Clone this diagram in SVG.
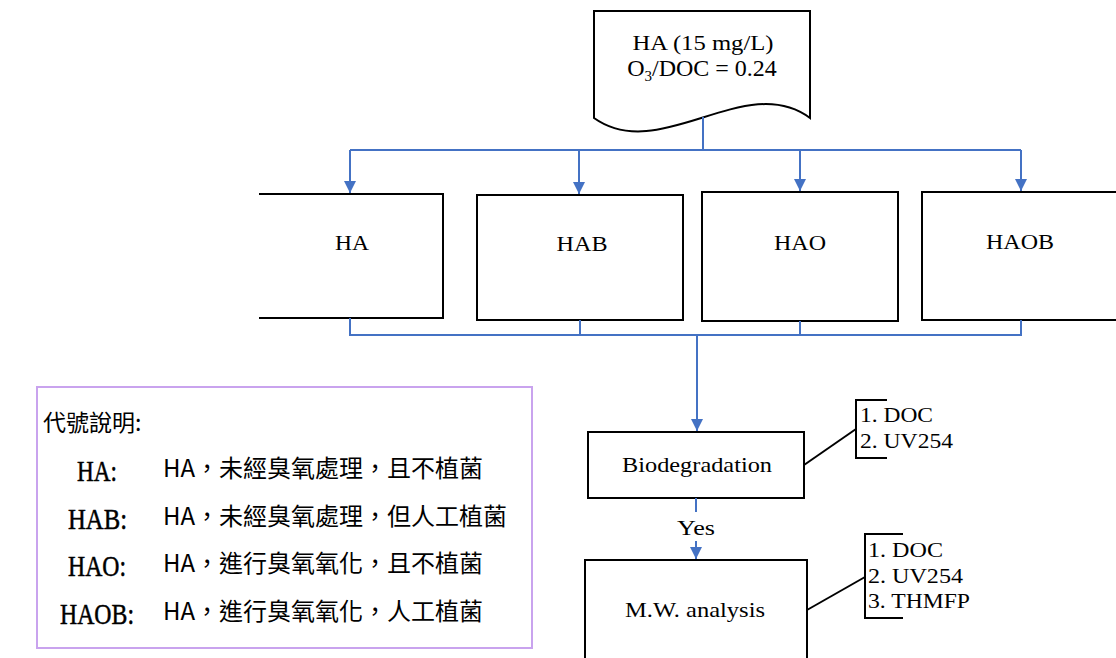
<svg xmlns="http://www.w3.org/2000/svg" width="1116" height="658" viewBox="0 0 1116 658">
  <style>
    .box { fill: #ffffff; stroke: #000000; stroke-width: 2; }
    .edge { fill: none; stroke: #000000; stroke-width: 2; }
    .flow { fill: none; stroke: #4472c4; stroke-width: 2; }
    .tx { font-family: "Liberation Serif", "Times New Roman", serif; fill: #000000; }
    .cjk { font-family: "Noto Sans CJK TC", "Noto Sans CJK SC", sans-serif; fill: #000000; }
    .lbl { font-size: 22px; text-anchor: middle; }
    .note { font-size: 22px; }
    .key { stroke: #000000; stroke-width: 0.5; }
  </style>
  <defs>
    <marker id="arrow" viewBox="0 0 10 10" refX="10" refY="5" markerWidth="6" markerHeight="6" orient="auto" markerUnits="strokeWidth">
      <path d="M0,0 L10,5 L0,10 Z" fill="#4472c4"/>
    </marker>
  </defs>

  <!-- source document -->
  <g id="source">
    <path class="box" d="M594,11 H810 V118 C745,70 660,165 594,118 Z"/>
    <text class="tx lbl" x="703" y="50" textLength="141" lengthAdjust="spacingAndGlyphs">HA (15 mg/L)</text>
    <text class="tx" x="702" y="76" style="font-size:24px" text-anchor="middle">O<tspan style="font-size:15px" dy="5">3</tspan><tspan dy="-5">/DOC = 0.24</tspan></text>
  </g>

  <!-- sample boxes -->
  <g id="node-ha">
    <rect x="259" y="194" width="184" height="124" fill="#ffffff"/>
    <path class="edge" d="M259,194 H443 V318 H259"/>
    <text class="tx lbl" x="352" y="250" textLength="34" lengthAdjust="spacingAndGlyphs">HA</text>
  </g>
  <g id="node-hab">
    <rect class="box" x="477" y="195" width="206" height="125"/>
    <text class="tx lbl" x="582" y="251" textLength="51" lengthAdjust="spacingAndGlyphs">HAB</text>
  </g>
  <g id="node-hao">
    <rect class="box" x="702" y="192" width="196" height="129"/>
    <text class="tx lbl" x="800" y="250" textLength="52" lengthAdjust="spacingAndGlyphs">HAO</text>
  </g>
  <g id="node-haob">
    <rect x="922" y="192" width="200" height="128" fill="#ffffff"/>
    <path class="edge" d="M1118,192 H922 V320 H1118"/>
    <text class="tx lbl" x="1020" y="249" textLength="68" lengthAdjust="spacingAndGlyphs">HAOB</text>
  </g>

  <!-- biodegradation step -->
  <g id="node-bio">
    <rect class="box" x="588" y="432" width="216" height="66"/>
    <text class="tx lbl" x="697" y="472" textLength="150" lengthAdjust="spacingAndGlyphs">Biodegradation</text>
    <path class="edge" d="M804,465 L856,429"/>
    <path class="edge" d="M887,400 H856 V458 H887"/>
    <text class="tx note" x="860" y="422" textLength="73" lengthAdjust="spacingAndGlyphs">1. DOC</text>
    <text class="tx note" x="860" y="448" textLength="93" lengthAdjust="spacingAndGlyphs">2. UV254</text>
  </g>

  <!-- molecular weight analysis step -->
  <g id="node-mw">
    <rect class="box" x="585" y="560" width="222" height="110"/>
    <text class="tx lbl" x="695" y="617" textLength="140" lengthAdjust="spacingAndGlyphs">M.W. analysis</text>
    <path class="edge" d="M807,610 L865,577"/>
    <path class="edge" d="M903,534 H865 V618 H903"/>
    <text class="tx note" x="868" y="557" textLength="75" lengthAdjust="spacingAndGlyphs">1. DOC</text>
    <text class="tx note" x="868" y="583" textLength="95" lengthAdjust="spacingAndGlyphs">2. UV254</text>
    <text class="tx note" x="868" y="608" textLength="102" lengthAdjust="spacingAndGlyphs">3. THMFP</text>
  </g>

  <!-- legend -->
  <g id="legend">
    <rect x="37" y="387" width="495" height="261" fill="#ffffff" stroke="#c9a3ee" stroke-width="2"/>
    <text class="cjk" x="43" y="431" font-size="23">代號說明:</text>
    <g class="tx key" font-size="30">
      <text x="77" y="481" textLength="40" lengthAdjust="spacingAndGlyphs">HA:</text>
      <text x="68" y="529" textLength="59" lengthAdjust="spacingAndGlyphs">HAB:</text>
      <text x="68" y="576" textLength="58" lengthAdjust="spacingAndGlyphs">HAO:</text>
      <text x="60" y="624" textLength="74" lengthAdjust="spacingAndGlyphs">HAOB:</text>
    </g>
    <g class="cjk" font-size="24">
      <text x="163" y="477" textLength="320" lengthAdjust="spacingAndGlyphs">HA，未經臭氧處理，且不植菌</text>
      <text x="163" y="525" textLength="344" lengthAdjust="spacingAndGlyphs">HA，未經臭氧處理，但人工植菌</text>
      <text x="163" y="572" textLength="320" lengthAdjust="spacingAndGlyphs">HA，進行臭氧氧化，且不植菌</text>
      <text x="163" y="620" textLength="320" lengthAdjust="spacingAndGlyphs">HA，進行臭氧氧化，人工植菌</text>
    </g>
  </g>

  <!-- connectors -->
  <g id="connectors">
    <path class="flow" d="M703,117 V150"/>
    <path class="flow" d="M350,150 H1021"/>
    <path class="flow" d="M350,150 V193" marker-end="url(#arrow)"/>
    <path class="flow" d="M579,150 V194" marker-end="url(#arrow)"/>
    <path class="flow" d="M800,150 V191" marker-end="url(#arrow)"/>
    <path class="flow" d="M1021,150 V191" marker-end="url(#arrow)"/>
    <path class="flow" d="M350,318 V335 H1021 V320"/>
    <path class="flow" d="M580,320 V335"/>
    <path class="flow" d="M800,321 V335"/>
    <path class="flow" d="M697,335 V431" stroke-width="2.5" marker-end="url(#arrow)"/>
    <path class="flow" d="M696,498 V512"/>
    <text class="tx" x="696" y="535" font-size="22" text-anchor="middle" textLength="38" lengthAdjust="spacingAndGlyphs">Yes</text>
    <path class="flow" d="M696,541 V559" marker-end="url(#arrow)"/>
  </g>
</svg>
